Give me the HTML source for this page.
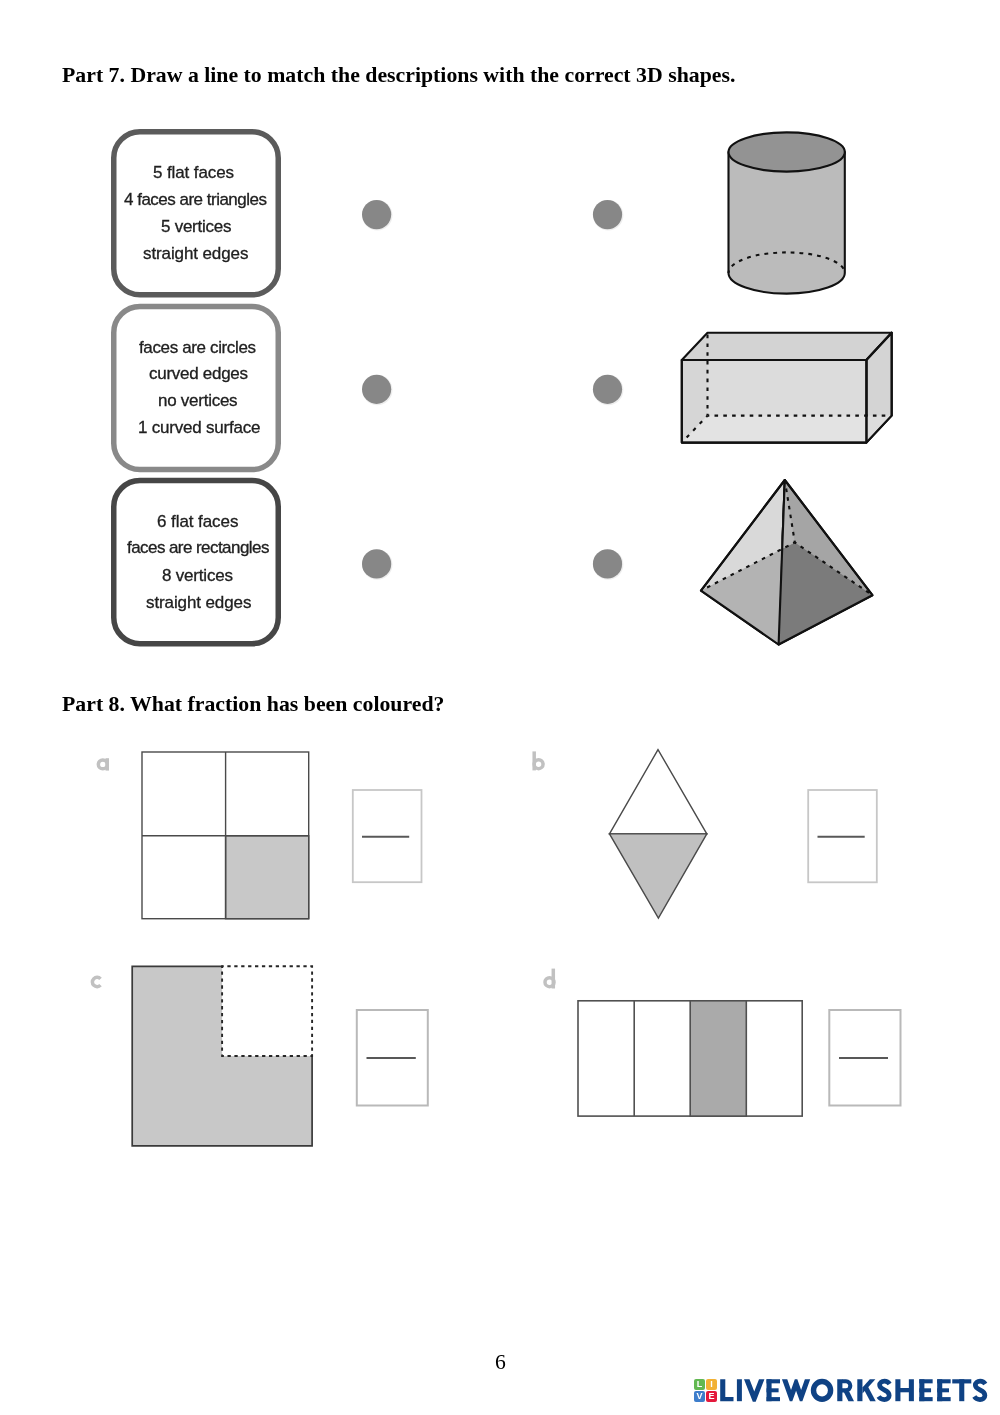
<!DOCTYPE html>
<html>
<head>
<meta charset="utf-8">
<style>
html,body{margin:0;padding:0;background:#fff;}
body{width:1000px;height:1415px;position:relative;overflow:hidden;font-family:"Liberation Sans",sans-serif;}
.h,.t,#pn,.sq{will-change:transform;}
.h{position:absolute;left:61.5px;font-family:"Liberation Serif",serif;font-weight:bold;font-size:21.8px;line-height:24px;color:#000;white-space:nowrap;}
.t{position:absolute;font-size:17px;line-height:20px;color:#202020;white-space:nowrap;-webkit-text-stroke:0.3px #202020;}
svg{position:absolute;left:0;top:0;}
.sq{position:absolute;width:11px;height:11px;border-radius:2px;color:#fff;font-weight:bold;font-size:9px;line-height:11px;text-align:center;}
</style>
</head>
<body>
<div class="h" style="top:62.5px">Part 7. Draw a line to match the descriptions with the correct 3D shapes.</div>

<svg id="shapes" width="1000" height="1415" viewBox="0 0 1000 1415">
<!-- boxes -->
<g fill="#fff" stroke-width="5.5">
  <rect x="113.75" y="131.75" width="164.5" height="163.1" rx="26.2" stroke="#5b5b5b"/>
  <rect x="113.75" y="306.45" width="164.5" height="163.1" rx="26.2" stroke="#898989"/>
  <rect x="113.75" y="480.55" width="164.5" height="163.1" rx="26.2" stroke="#464646"/>
</g>
<!-- dots -->
<g>
  <circle cx="377.3" cy="215.29999999999998" r="15.2" fill="#000" opacity="0.07"/><circle cx="376.6" cy="214.6" r="14.6" fill="#878787"/>
  <circle cx="608.2" cy="215.29999999999998" r="15.2" fill="#000" opacity="0.07"/><circle cx="607.5" cy="214.6" r="14.6" fill="#878787"/>
  <circle cx="377.3" cy="390.0" r="15.2" fill="#000" opacity="0.07"/><circle cx="376.6" cy="389.3" r="14.6" fill="#878787"/>
  <circle cx="608.2" cy="390.0" r="15.2" fill="#000" opacity="0.07"/><circle cx="607.5" cy="389.3" r="14.6" fill="#878787"/>
  <circle cx="377.3" cy="564.6" r="15.2" fill="#000" opacity="0.07"/><circle cx="376.6" cy="563.9" r="14.6" fill="#878787"/>
  <circle cx="608.2" cy="564.6" r="15.2" fill="#000" opacity="0.07"/><circle cx="607.5" cy="563.9" r="14.6" fill="#878787"/>
</g>
<!-- cylinder -->
<g stroke="#111" stroke-width="2.1" stroke-linejoin="round">
  <path d="M728.5 152 L728.5 273 A58.15 20.6 0 0 0 844.8 273 L844.8 152 Z" fill="#bbbbbb"/>
  <ellipse cx="786.65" cy="152" rx="58.15" ry="19.6" fill="#939393"/>
  <path d="M728.5 273 A58.15 20.6 0 0 1 844.8 273" fill="none" stroke-dasharray="3.8 5" stroke-dashoffset="1" stroke-width="2.1"/>
</g>
<!-- cuboid -->
<g stroke="#111" stroke-width="2.1" stroke-linejoin="round">
  <path d="M681.8 360 L707.5 332.7 L891.7 332.7 L866.4 360 Z" fill="#d3d3d3"/>
  <path d="M866.4 360 L891.7 332.7 L891.7 415.6 L866.4 442.6 Z" fill="#d4d4d4"/>
  <path d="M681.8 360 L866.4 360 L866.4 442.6 L681.8 442.6 Z" fill="#dcdcdc"/>
  <path d="M681.8 360 L707.5 360 L707.5 415.6 L681.8 442.6 Z" fill="#000" fill-opacity="0.025" stroke="none"/>
  <path d="M707.5 415.6 L891.7 415.6 L866.4 442.6 L681.8 442.6 Z" fill="#fff" fill-opacity="0.22" stroke="none"/>
  <path d="M681.8 360 L866.4 360 L866.4 442.6 L681.8 442.6 Z M866.4 360 L891.7 332.7 L891.7 415.6 L866.4 442.6" fill="none"/>
  <g fill="none" stroke-dasharray="3.6 5.2" stroke-dashoffset="1.8" stroke-width="2.1">
    <path d="M707.5 415.6 L707.5 334"/>
    <path d="M707.5 415.6 L889 415.6"/>
    <path d="M707.5 415.6 L681.8 442.6" stroke-dasharray="3.6 5.9"/>
  </g>
</g>
<!-- pyramid -->
<g stroke="#111" stroke-width="2.1" stroke-linejoin="round">
  <path d="M784.8 480 L701 590.6 L778.6 644.5 Z" fill="#d9d9d9"/>
  <path d="M784.8 480 L778.6 644.5 L872.4 595.2 Z" fill="#a5a5a5"/>
  <path d="M701 590.6 L781.3 549.3 L778.6 644.5 Z" fill="#b3b3b3" stroke="none"/>
  <path d="M781.3 549.3 L794.8 542.4 L872.4 595.2 L778.6 644.5 Z" fill="#7b7b7b" stroke="none"/>
  <path d="M784.8 480 L794.8 542.4 L781.3 549.3 Z" fill="#b4b4b4" stroke="none"/>
  <path d="M784.8 480 L701 590.6 L778.6 644.5 L872.4 595.2 Z M784.8 480 L778.6 644.5" fill="none"/>
  <g fill="none" stroke-dasharray="3.6 5.2" stroke-dashoffset="1.8" stroke-width="2.1">
    <path d="M794.8 542.4 L784.8 480"/>
    <path d="M794.8 542.4 L701 590.6"/>
    <path d="M794.8 542.4 L872.4 595.2"/>
  </g>
</g>
<!-- part 8 a -->
<g stroke="#4a4a4a" stroke-width="1.4" fill="#fff">
  <rect x="142" y="752" width="166.7" height="166.7"/>
  <rect x="225.6" y="835.7" width="83.1" height="83" fill="#c8c8c8"/>
  <path d="M225.6 752 V918.7 M142 835.7 H308.7" fill="none"/>
</g>
<!-- b -->
<g stroke="#4a4a4a" stroke-width="1.4" stroke-linejoin="miter">
  <path d="M658 749.6 L609.5 833.9 L706.8 833.9 Z" fill="#fff"/>
  <path d="M609.5 833.9 L706.8 833.9 L658.4 918.2 Z" fill="#c0c0c0"/>
</g>
<!-- c -->
<g>
  <path d="M132.2 966.3 H222.1 V1056 H312.1 V1145.8 H132.2 Z" fill="#c8c8c8" stroke="none"/>
  <path d="M223 966.3 H132.2 V1145.8 H312.1 V1054.5" fill="none" stroke="#3a3a3a" stroke-width="1.7"/>
  <path d="M222.1 966.3 H312.1 V1056 H222.1 Z" fill="none" stroke="#262626" stroke-width="1.9" stroke-dasharray="3.3 3.612" stroke-dashoffset="1.65"/>
</g>
<!-- d -->
<g stroke="#505050" stroke-width="1.6" fill="#fff">
  <rect x="578" y="1000.8" width="224.2" height="115.3"/>
  <rect x="690.2" y="1000.8" width="56.1" height="115.3" fill="#aaaaaa"/>
  <path d="M634.2 1000.8 V1116.1" fill="none"/>
</g>
<!-- answer boxes -->
<g fill="#fff" stroke="#c7c7c7" stroke-width="1.8">
  <rect x="352.8" y="790" width="68.7" height="92.2"/>
  <rect x="808.2" y="790" width="68.6" height="92.3"/>
</g>
<g fill="#fff" stroke="#b9b9b9" stroke-width="2">
  <rect x="356.8" y="1010" width="71" height="95.5"/>
  <rect x="829.3" y="1010" width="71.2" height="95.5"/>
</g>
<g stroke="#585858" stroke-width="2.1" fill="none">
  <path d="M362 836.8 H409.2"/>
  <path d="M817.5 836.7 H864.7"/>
  <path d="M366.5 1058 H415.8"/>
  <path d="M839 1058 H888"/>
</g>
<!-- logo -->
<g fill="#0f4284">
  <path d="M720.2 1379.25H725.3V1397.1000000000001H733.5V1401.2H720.2Z"/>
  <path d="M736.9 1379.25H741.9V1401.2H736.9Z"/>
  <path d="M744 1379.25L749.5 1379.25L754.25 1391.5L759 1379.25L764.4 1379.25L755.7 1401.7L752.8 1401.7Z"/>
  <path d="M766.5 1379.25H771.6V1401.2H766.5Z"/>
  <path d="M766.5 1379.25H780V1383.35H766.5Z"/>
  <path d="M766.5 1388.3H778.6V1392.3H766.5Z"/>
  <path d="M766.5 1397.1000000000001H780V1401.2H766.5Z"/>
  <path d="M781.95 1379.25L787.25 1379.25L791.04 1389.9L794.825 1379.25L797.325 1379.25L801.11 1389.9L804.9 1379.25L810.2 1379.25L802.36 1401.2L799.86 1401.2L796.075 1390.65L792.29 1401.2L789.79 1401.2Z"/>
  <path d="M837.25 1379.25H842.4V1401.2H837.25Z"/>
  <path d="M848.45 1401.2L854 1401.2L849.2 1391.4L843.6 1391.4Z"/>
  <path d="M857.3 1379.25H862.45V1401.2H857.3Z"/>
  <path d="M869.8 1379.25L875.4 1379.25L862.45 1393.6L862.45 1387.4Z"/>
  <path d="M870.15 1401.2L875.75 1401.2L867.5 1385.7L863.5 1388.7Z"/>
  <path d="M895.35 1379.25H900.45V1401.2H895.35Z"/>
  <path d="M908.85 1379.25H913.9V1401.2H908.85Z"/>
  <path d="M900 1388H909V1392.3H900Z"/>
  <path d="M919.3 1379.25H924.4V1401.2H919.3Z"/>
  <path d="M919.3 1379.25H932.65V1383.35H919.3Z"/>
  <path d="M919.3 1388.3H931.05V1392.3H919.3Z"/>
  <path d="M919.3 1397.1000000000001H932.65V1401.2H919.3Z"/>
  <path d="M937.2 1379.25H942.25V1401.2H937.2Z"/>
  <path d="M937.2 1379.25H950.65V1383.35H937.2Z"/>
  <path d="M937.2 1388.3H949V1392.3H937.2Z"/>
  <path d="M937.2 1397.1000000000001H950.65V1401.2H937.2Z"/>
  <path d="M952.25 1379.25H971.3V1383.45H952.25Z"/>
  <path d="M959.2 1379.25H964.3V1401.2H959.2Z"/>
</g>
<g fill="none" stroke="#0f4284">
  <ellipse cx="822.05" cy="1390.35" rx="8.55" ry="8.85" stroke-width="5.4"/>
  <path d="M842 1381.3H846A4.3 4.55 0 0 1 846 1390.4H842" stroke-width="4.1"/>
  <path d="M889.6 1383.9C888.4 1382 886.6 1381.1 884.4 1381.1C881.6 1381.1 879.6 1382.7 879.6 1385.1C879.6 1387.6 881.4 1388.7 884.4 1390C887.6 1391.4 889.2 1392.9 889.2 1395.5C889.2 1398 887.2 1399.6 884.3 1399.6C881.8 1399.6 879.8 1398.5 878.6 1396.6" stroke-width="4.7"/>
  <path d="M985.3 1383.9C984.1 1382 982.3 1381.1 980.1 1381.1C977.3 1381.1 975.3 1382.7 975.3 1385.1C975.3 1387.6 977.1 1388.7 980.1 1390C983.3 1391.4 984.9 1392.9 984.9 1395.5C984.9 1398 982.9 1399.6 980.0 1399.6C977.5 1399.6 975.5 1398.5 974.3 1396.6" stroke-width="4.7"/>
</g>
<!-- labels -->
<g fill="none" stroke="#c1c1c1" stroke-width="3.5" stroke-linecap="butt">
  <circle cx="102.8" cy="764.4" r="4.45"/><path d="M107.25 758.2 V770.6"/>
  <circle cx="538.6" cy="764.2" r="4.45"/><path d="M534.2 751.4 V770.4"/>
  <path d="M100.5 978.9 A4.65 4.65 0 1 0 100.5 985.1"/>
  <circle cx="549.5" cy="982.2" r="4.5"/><path d="M553.3 968.6 V988.5"/>
</g>
</svg>
<!--TXT-->
<div class="t" style="left:152.9px;top:163px;letter-spacing:-0.111px">5 flat faces</div>
<div class="t" style="left:123.9px;top:190px;letter-spacing:-0.505px">4 faces are triangles</div>
<div class="t" style="left:160.5px;top:217px;letter-spacing:-0.261px">5 vertices</div>
<div class="t" style="left:142.9px;top:244px;letter-spacing:-0.107px">straight edges</div>
<div class="t" style="left:139.3px;top:338px;letter-spacing:-0.364px">faces are circles</div>
<div class="t" style="left:148.5px;top:364px;letter-spacing:-0.280px">curved edges</div>
<div class="t" style="left:158.3px;top:391px;letter-spacing:-0.260px">no vertices</div>
<div class="t" style="left:137.5px;top:418px;letter-spacing:-0.219px">1 curved surface</div>
<div class="t" style="left:156.9px;top:512px;letter-spacing:-0.074px">6 flat faces</div>
<div class="t" style="left:126.5px;top:538px;letter-spacing:-0.563px">faces are rectangles</div>
<div class="t" style="left:162.3px;top:566px;letter-spacing:-0.194px">8 vertices</div>
<div class="t" style="left:145.5px;top:593px;letter-spacing:-0.107px">straight edges</div>
<!--/TXT-->

<div class="h" style="top:692px">Part 8. What fraction has been coloured?</div>

<div id="logo" style="position:absolute;left:0;top:0;">
  <div class="sq" style="left:693.5px;top:1379px;background:#62b851">L</div>
  <div class="sq" style="left:706px;top:1379px;background:#f2b134">I</div>
  <div class="sq" style="left:693.5px;top:1391px;background:#3d7dcb">V</div>
  <div class="sq" style="left:706px;top:1391px;background:#e4193c">E</div>
</div>
<div id="pn" style="position:absolute;left:495.3px;top:1350.4px;font-family:'Liberation Serif',serif;font-size:21.6px;line-height:24px;color:#000;">6</div>
</body>
</html>
